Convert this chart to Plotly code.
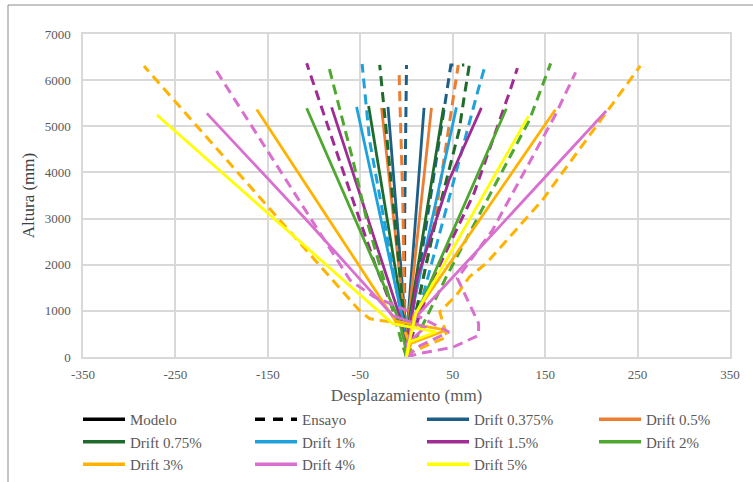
import plotly.graph_objects as go

# ---------------- data ----------------
drift_labels = ["Drift 0.375%", "Drift 0.5%", "Drift 0.75%", "Drift 1%", "Drift 1.5%",
                "Drift 2%", "Drift 3%", "Drift 4%", "Drift 5%"]

x_ticks = [-350, -250, -150, -50, 50, 150, 250, 350]
y_ticks = [0, 1000, 2000, 3000, 4000, 5000, 6000, 7000]

# Modelo (solid) – positive direction: lists of (displacement mm, height mm)
modelo_pos = {
    "Drift 0.375%": [(0, 0), (0.5, 300), (1.5, 800), (19, 5400)],
    "Drift 0.5%": [(0, 0), (0.5, 300), (2, 800), (27, 5400)],
    "Drift 0.75%": [(0, 0), (1, 300), (3, 800), (40, 5400)],
    "Drift 1%": [(0, 0), (1, 300), (4, 800), (54, 5410)],
    "Drift 1.5%": [(0, 0), (2, 400), (12, 1735), (46, 3830), (81, 5400)],
    "Drift 2%": [(0, 0), (2, 300), (8, 800), (108, 5380)],
    "Drift 3%": [(0, 0), (2, 300), (8, 900), (161, 5360)],
    "Drift 4%": [(0, 0), (1, 300), (10, 860), (216, 5330)],
    "Drift 5%": [(0, 0), (3, 325), (10, 940), (132, 5220)],
}

# Modelo (solid) – negative direction
modelo_neg = {
    "Drift 0.375%": [(0, 0), (-0.5, 300), (-1.5, 800), (-20, 5420)],
    "Drift 0.5%": [(0, 0), (-0.5, 300), (-2, 800), (-27, 5400)],
    "Drift 0.75%": [(0, 0), (-1, 300), (-3, 800), (-41, 5440)],
    "Drift 1%": [(0, 0), (-1, 300), (-4, 800), (-54, 5420)],
    "Drift 1.5%": [(0, 0), (-1.5, 300), (-6, 800), (-81, 5410)],
    "Drift 2%": [(0, 0), (-2, 300), (-8, 800), (-108, 5390)],
    "Drift 3%": [(0, 0), (5, 300), (43, 580), (-12, 780), (-162, 5366)],
    "Drift 4%": [(0, 0), (2, 300), (20, 650), (-15, 900), (-60, 1900), (-108, 2965), (-216, 5280)],
    "Drift 5%": [(0, 0), (3, 325), (32, 542), (-15, 723), (-270, 5243)],
}

# Ensayo (dashed) – positive direction
ensayo_pos = {
    "Drift 0.375%": [(0, 0), (3, 500), (41, 5410), (44, 5785), (48, 6330), (56, 6330)],
    "Drift 0.5%": [(0, 0), (5, 400), (30, 2894), (37, 3830), (52, 5857), (56, 6330)],
    "Drift 0.75%": [(0, 0), (5, 500), (30, 2800), (57, 4915), (63, 5713), (68, 6330), (60, 6330)],
    "Drift 1%": [(0, 0), (8, 600), (37, 2750), (61, 4555), (77, 5750), (84, 6240)],
    "Drift 1.5%": [(0, 0), (5, 400), (28, 1663), (73, 3545), (111, 5713), (120, 6260)],
    "Drift 2%": [(0, 0), (8, 300), (43, 1735), (97, 3760), (133, 5134), (156, 6364)],
    "Drift 3%": [(0, 0), (6, 108), (27, 297), (44, 434), (36, 976), (54, 1338), (68, 1735),
                 (86, 2026), (115, 2677), (147, 3400), (253, 6310)],
    "Drift 4%": [(0, 0), (14, 75), (50, 210), (78, 470), (78, 730), (55, 1705), (93, 2750),
                 (160, 5206), (183, 6170)],
}

# Ensayo (dashed) – negative direction
ensayo_neg = {
    "Drift 0.375%": [(0, 0), (-2, 600), (-2, 3000), (0, 6330)],
    "Drift 0.5%": [(0, 0), (-2, 600), (-4, 3400), (-8, 6150)],
    "Drift 0.75%": [(0, 0), (-1, 500), (-23, 5130), (-29, 6330)],
    "Drift 1%": [(0, 0), (-3, 600), (-20, 2500), (-40, 4700), (-48, 6350)],
    "Drift 1.5%": [(0, 0), (-2, 400), (-33, 1952), (-58, 3400), (-108, 6364)],
    "Drift 2%": [(0, 0), (-5, 300), (-18, 1230), (-43, 2965), (-58, 4267), (-85, 6364)],
    "Drift 3%": [(0, 0), (3, 300), (-5, 740), (-31, 796), (-40, 833), (-51, 1010), (-284, 6306)],
    "Drift 4%": [(0, 0), (15, 250), (46, 542), (0, 1013), (-35, 1300), (-61, 1663), (-209, 6306)],
}

# ---------------- styles ----------------
drift_colors = ["#1D5F86", "#ED7D31", "#1E6B2B", "#1FA2DC", "#A02B93",
                "#4EA72E", "#FFB300", "#D96FCF", "#FFFF00"]
FONT = "Liberation Serif, Times New Roman, DejaVu Serif, serif"
GRID = "#D9D9D9"
TXT = "#595959"

fig = go.Figure()

# legend entries
fig.add_trace(go.Scatter(x=[None], y=[None], mode="lines", name="Modelo",
                         line=dict(color="black", width=3.5)))
fig.add_trace(go.Scatter(x=[None], y=[None], mode="lines", name="Ensayo",
                         line=dict(color="black", width=3.5, dash="10px,8px")))
for lab, col in zip(drift_labels, drift_colors):
    fig.add_trace(go.Scatter(x=[None], y=[None], mode="lines", name=lab,
                             line=dict(color=col, width=3.5)))


def add_curve(pts, col, dashed):
    fig.add_trace(go.Scatter(
        x=[p[0] for p in pts], y=[p[1] for p in pts], mode="lines",
        showlegend=False, hoverinfo="skip",
        line=dict(color=col, width=3 if dashed else 2.8,
                  dash="10px,6px" if dashed else "solid")))


for lab, col in zip(drift_labels, drift_colors):
    if lab in ensayo_neg:
        add_curve(ensayo_neg[lab], col, True)
    if lab in ensayo_pos:
        add_curve(ensayo_pos[lab], col, True)
    add_curve(modelo_neg[lab], col, False)
    add_curve(modelo_pos[lab], col, False)

L, R, T, B = 83, 23, 34, 125
W, H = 753, 482
pw, ph = W - L - R, H - T - B

fig.update_layout(
    width=W, height=H,
    margin=dict(l=L, r=R, t=T, b=B, autoexpand=False),
    paper_bgcolor="white", plot_bgcolor="white",
    font=dict(family=FONT, color=TXT),
    showlegend=True,
    legend=dict(orientation="h", xref="paper", yref="paper",
                x=(65 - L) / pw, y=-(390 - (H - B)) / ph, xanchor="left", yanchor="top",
                font=dict(family=FONT, size=15, color=TXT),
                itemwidth=42, entrywidth=115, entrywidthmode="pixels",
                borderwidth=13, bordercolor="rgba(0,0,0,0)",
                traceorder="normal", bgcolor="rgba(0,0,0,0)"),
    xaxis=dict(range=[-350, 350], tickmode="array", tickvals=x_ticks,
               ticktext=[str(v) for v in x_ticks],
               showgrid=True, gridcolor=GRID, gridwidth=1.5, zeroline=False,
               showline=True, linecolor=GRID, linewidth=1.5, mirror=True,
               ticks="outside", ticklen=5, tickcolor="rgba(0,0,0,0)",
               tickfont=dict(family=FONT, size=13, color=TXT),
               title=dict(text="Desplazamiento (mm)", standoff=8,
                          font=dict(family=FONT, size=17, color=TXT))),
    yaxis=dict(range=[0, 7000], tickmode="array", tickvals=y_ticks,
               ticktext=[str(v) for v in y_ticks],
               showgrid=True, gridcolor=GRID, gridwidth=1.5, zeroline=False,
               showline=True, linecolor=GRID, linewidth=1.5, mirror=True,
               ticks="outside", ticklen=8, tickcolor="rgba(0,0,0,0)",
               tickfont=dict(family=FONT, size=13, color=TXT),
               title=dict(text="Altura (mm)", standoff=6,
                          font=dict(family=FONT, size=17, color="#404040"))),
    shapes=[dict(type="rect", xref="paper", yref="paper", layer="below",
                 x0=(8 - L) / pw, x1=(W + 10 - L) / pw,
                 y0=-(H + 10 - (H - B)) / ph, y1=((H - B) - 5) / ph,
                 line=dict(color="#8C8C8C", width=1), fillcolor="rgba(0,0,0,0)")],
)

fig.write_html("out.html")
